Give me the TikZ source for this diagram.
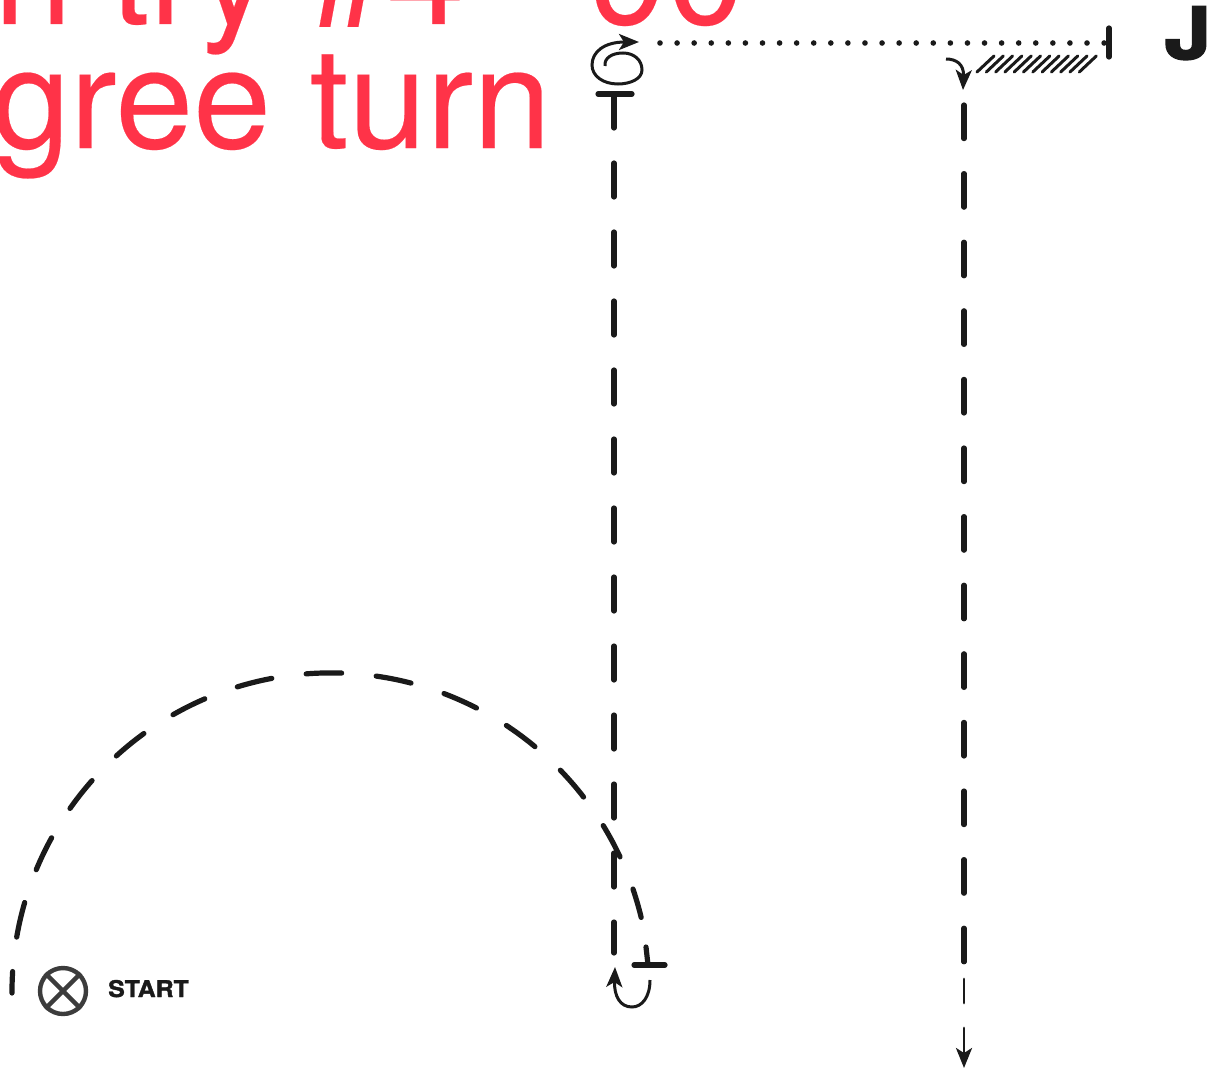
\documentclass[tikz,border=0pt]{standalone}
\usepackage{fontspec}
\setmainfont{TeX Gyre Heros}
\newfontfamily\startfont[BoldFeatures={FakeBold=1.6}]{TeX Gyre Heros}
\newfontfamily\jfont[BoldFeatures={FakeBold=2.2}]{TeX Gyre Heros}
\newfontfamily\headfont[FakeBold=0.15]{TeX Gyre Heros}
\usetikzlibrary{arrows.meta}
\definecolor{headred}{HTML}{FF3348}
\definecolor{ink}{HTML}{1A1A1A}
\definecolor{markgray}{HTML}{3C3C3C}
\tikzset{
  heading/.style={text=headred,inner sep=0pt,anchor=base west,font=\headfont\fontsize{140}{140}\selectfont},
  route/.style={draw=ink,line width=5.2pt,line cap=round},
  stopbar/.style={draw=ink,line width=5.2pt,line cap=round},
  dots/.style={draw=ink,line width=5.6pt,line cap=round,dash pattern=on 0pt off 17.08pt},
  thinline/.style={draw=ink,line width=2.8pt,line cap=round},
  curl/.style={draw=ink,line width=3pt},
  headtip/.style={-{Stealth[length=20pt,width=16pt,inset=5pt]}},
  hatch/.style={draw=ink,line width=3pt,line cap=round}
}
\begin{document}
\begin{tikzpicture}[x=1pt,y=-1pt]
\useasboundingbox (0,0) rectangle (1214,1070);
\clip (0,0) rectangle (1214,1070);
\fill[white] (0,0) rectangle (1214,1070);
% heading, cropped by the frame
\node[heading] (lineone) at (-6,24) {n try \#4 - 90};
\node[heading] (linetwo) at (-8,148) {gree turn};
% left vertical run
\coordinate (leftTop) at (614,94);
\coordinate (leftEnd) at (614,953);
\draw[route,dash pattern=on 34pt off 35pt] (leftTop) -- (leftEnd);
\draw[stopbar] (598,94) -- (632,94);
% spiral turn
\coordinate (spiralEnd) at (639,42);
\draw[curl,headtip] (605,66) .. controls (604,58) and (612,53) .. (623,53)
  .. controls (634,53) and (642,60) .. (642,70)
  .. controls (642,79) and (630,84) .. (618,84)
  .. controls (603,84) and (592,76) .. (592,65)
  .. controls (592,52) and (604,42) .. (spiralEnd);
% dotted run
\coordinate (dotA) at (660,43);
\coordinate (dotB) at (1105,43);
\draw[dots] (dotA) -- (dotB);
\draw[stopbar] (1109,28) -- (1109,57);
% hatching
\foreach \i in {0,...,11}{
  \draw[hatch] ({977+9.3*\i},72) -- ({994+9.3*\i},56);
}
% small turn arrow
\coordinate (turnEnd) at (963,90);
\draw[curl,headtip] (946,59) .. controls (956,59) and (964,64) .. (turnEnd);
% right vertical run
\coordinate (rightTop) at (964,105);
\coordinate (rightEnd) at (964,963);
\draw[route,dash pattern=on 33.6pt off 35pt] (rightTop) -- (rightEnd);
\draw[thinline] (964,979) -- (964,1003);
\coordinate (exitEnd) at (964,1068);
\draw[thinline,headtip] (964,1028) -- (exitEnd);
% big arc
\draw[route,dash pattern=on 35.5pt off 34.7pt,dash phase=14pt]
  (12,993) arc[start angle=179.8,end angle=346.5,radius=319];
\coordinate (stemTop) at (646,947);
\coordinate (stemFoot) at (648,965);
\draw[stopbar] (stemTop) -- (stemFoot);
\draw[stopbar] (634,965) -- (665,965);
% bottom turn arrow
\coordinate (uEnd) at (615,967);
\draw[curl,headtip] (650,980) .. controls (650,997) and (642,1007) .. (632,1007)
  .. controls (620,1007) and (614,996) .. (uEnd);
% start mark
\node[circle,draw=markgray,line width=4.4pt,minimum size=46pt,inner sep=0pt] (startmark) at (63,991) {};
\draw[markgray,line width=4.4pt] (startmark.45) -- (startmark.225);
\draw[markgray,line width=4.4pt] (startmark.135) -- (startmark.315);
\node[anchor=base west,inner sep=0pt,text=ink,xscale=1.08,font=\startfont\bfseries\fontsize{23}{23}\selectfont] (starttext) at (108,997) {START};
% letter at the right
\node[anchor=base west,inner sep=0pt,text=ink,xscale=1.18,font=\jfont\bfseries\fontsize{72}{72}\selectfont] (letter) at (1164,59) {J};
\end{tikzpicture}
\end{document}
